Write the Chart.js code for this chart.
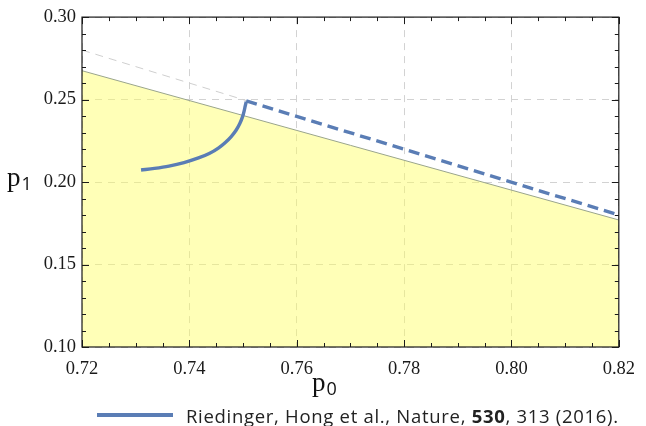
<!DOCTYPE html>
<html><head><meta charset="utf-8">
<script src="https://cdn.jsdelivr.net/npm/chart.js@4/dist/chart.umd.min.js"></script>
<style>
html,body{margin:0;padding:0;background:#fff;}
#wrap{position:relative;width:646px;height:426px;overflow:hidden;}
canvas{position:absolute;left:0;top:0;}
.ax{position:absolute;font-family:"Liberation Serif","DejaVu Serif",serif;color:#111;line-height:1;white-space:nowrap;}
.ax .p{font-size:27px;}
.ax .s{font-family:"Open Sans",sans-serif;font-size:18px;position:relative;top:4px;margin-left:1px;}
#legend{position:absolute;left:97px;top:403px;height:24px;display:flex;align-items:center;font-family:"Open Sans","Lato",sans-serif;font-size:18.5px;letter-spacing:0.7px;color:#222;white-space:nowrap;}
#legend .sw{display:inline-block;width:76px;height:4px;background:#5a7db5;margin-right:13px;}
</style></head><body>
<div id="wrap">
<canvas id="c" width="646" height="426"></canvas>
<div class="ax" id="xt" style="left:312px;top:369px;"><span class="p">p</span><span class="s">0</span></div>
<div class="ax" id="yt" style="left:7px;top:164px;"><span class="p">p</span><span class="s">1</span></div>
<div id="legend"><span class="sw"></span><span>Riedinger, Hong et al., Nature, <b>530</b>, 313 (2016).</span></div>
</div>
<script>
// ---- data ----
const xTicks = [0.72, 0.74, 0.76, 0.78, 0.80, 0.82];
const yTicks = [0.10, 0.15, 0.20, 0.25, 0.30];

// measured curve (solid)
const measP0 = [0.7310, 0.7335, 0.7362, 0.7390, 0.7417, 0.7437, 0.7454, 0.7467, 0.7478, 0.7487, 0.7494, 0.7499, 0.7502, 0.7504, 0.7506];
const measP1 = [0.2073, 0.2083, 0.2097, 0.2118, 0.2146, 0.2173, 0.2206, 0.2240, 0.2276, 0.2314, 0.2355, 0.2395, 0.2430, 0.2460, 0.2488];

// continuation along p1 = 1 - p0 (dashed)
const dashP0 = [0.7506, 0.8200];
const dashP1 = [0.2492, 0.1800];

// light gray dashed reference p1 = 1 - p0
const refP0 = [0.7200, 0.7510];
const refP1 = [0.2800, 0.2490];

// boundary of the yellow region
const boundP0 = [0.7200, 0.8200];
const boundP1 = [0.2675, 0.1770];

const pts = (xs, ys) => xs.map((x, i) => ({x: x, y: ys[i]}));

const BLUE = '#5a7db5';
const SERIF = 'Liberation Serif';

const framePlugin = {
  id: 'frame',
  afterDraw(chart) {
    const ctx = chart.ctx, a = chart.chartArea;
    const xs = chart.scales.x, ys = chart.scales.y;
    ctx.save();
    ctx.strokeStyle = '#1a1a1a';
    ctx.lineWidth = 1.2;
    ctx.strokeRect(a.left, a.top, a.right - a.left, a.bottom - a.top);
    ctx.lineWidth = 1;
    for (let k = 0; k <= 20; k++) {
      const v = 0.72 + k * 0.005;
      const px = Math.round(xs.getPixelForValue(v)) + 0.5;
      const len = (k % 4 === 0) ? 7 : 4;
      ctx.beginPath();
      ctx.moveTo(px, a.bottom); ctx.lineTo(px, a.bottom - len);
      ctx.moveTo(px, a.top); ctx.lineTo(px, a.top + len);
      ctx.stroke();
    }
    for (let k = 0; k <= 20; k++) {
      const v = 0.10 + k * 0.01;
      const py = Math.round(ys.getPixelForValue(v)) + 0.5;
      const len = (k % 5 === 0) ? 7 : 4;
      ctx.beginPath();
      ctx.moveTo(a.left, py); ctx.lineTo(a.left + len, py);
      ctx.moveTo(a.right, py); ctx.lineTo(a.right - len, py);
      ctx.stroke();
    }
    ctx.restore();
  }
};

function build() {
  Chart.defaults.font.family = SERIF;
  new Chart(document.getElementById('c'), {
    type: 'scatter',
    data: {
      datasets: [
        {
          label: 'measured', data: pts(measP0, measP1), showLine: true,
          borderColor: BLUE, borderWidth: 3.4, pointRadius: 0,
          cubicInterpolationMode: 'monotone', fill: false, order: 1
        },
        {
          label: 'bound', data: pts(dashP0, dashP1), showLine: true,
          borderColor: BLUE, borderWidth: 3.4, borderDash: [11, 6], pointRadius: 0,
          fill: false, order: 2
        },
        {
          label: 'reference', data: pts(refP0, refP1), showLine: true,
          borderColor: '#cfcfcf', borderWidth: 1, borderDash: [8, 6], pointRadius: 0,
          fill: false, order: 3
        },
        {
          label: 'region', data: pts(boundP0, boundP1), showLine: true,
          borderColor: '#9aa58c', borderWidth: 1, pointRadius: 0,
          fill: 'start', backgroundColor: 'rgba(255,255,95,0.45)', order: 4
        }
      ]
    },
    options: {
      responsive: false,
      animation: false,
      layout: {padding: {left: 0, right: 20, top: 12, bottom: 0}},
      plugins: {legend: {display: false}, tooltip: {enabled: false}},
      scales: {
        x: {
          type: 'linear', min: 0.72, max: 0.82,
          afterBuildTicks: s => { s.ticks = xTicks.map(v => ({value: v})); },
          afterFit: s => { s.height = 79; },
          ticks: {
            callback: v => Number(v).toFixed(2),
            font: {family: SERIF, size: 18.5},
            color: '#1a1a1a', padding: 11, maxRotation: 0, autoSkip: false
          },
          grid: {color: '#d2d2d2', lineWidth: 1, drawTicks: false},
          border: {display: false, dash: [7, 6]}
        },
        y: {
          type: 'linear', min: 0.10, max: 0.30,
          afterBuildTicks: s => { s.ticks = yTicks.map(v => ({value: v})); },
          afterFit: s => { s.width = 82; },
          ticks: {
            callback: v => Number(v).toFixed(2),
            font: {family: SERIF, size: 18.5},
            color: '#1a1a1a', padding: 6, autoSkip: false
          },
          grid: {color: '#d2d2d2', lineWidth: 1, drawTicks: false},
          border: {display: false, dash: [7, 6]}
        }
      }
    },
    plugins: [framePlugin]
  });
}

if (document.fonts && document.fonts.load) {
  document.fonts.load('18px "Liberation Serif"').then(build, build);
} else {
  build();
}
</script>
</body></html>
